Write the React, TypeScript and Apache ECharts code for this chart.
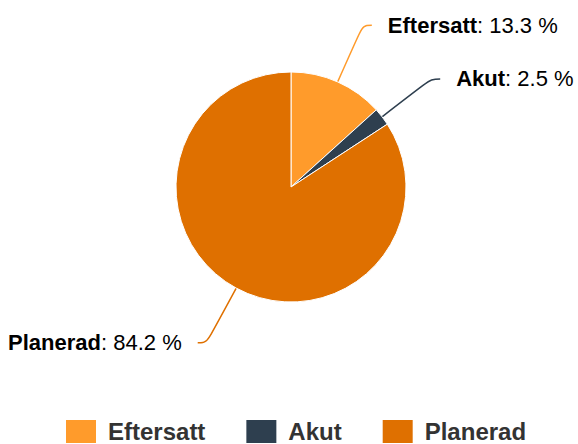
import React, { useEffect, useRef } from "react";
import * as echarts from "echarts";

const categories = ["Eftersatt", "Akut", "Planerad"];
const values = [13.3, 2.5, 84.2];
const colors = ["#FF9B2B", "#2E3F4F", "#DF7000"];

export default function App() {
  const ref = useRef<HTMLDivElement>(null);
  useEffect(() => {
    document.body.style.margin = "0";
    const chart = echarts.init(ref.current!, null, { renderer: "svg" });
    const font = "'Liberation Sans', Arial, Helvetica, sans-serif";
    chart.setOption({
      animation: false,
      textStyle: { fontFamily: font },
      color: colors,
      legend: {
        left: 64,
        top: 418,
        padding: 0,
        itemWidth: 32,
        itemHeight: 25,
        itemGap: 39,
        icon: "rect",
        data: categories,
        textStyle: {
          fontFamily: font,
          fontSize: 24,
          lineHeight: 24,
          fontWeight: "bold",
          color: "#333333",
          padding: [0, 0, 0, 6],
        },
      },
      series: [
        {
          type: "pie",
          center: [291, 187],
          radius: [0, 115],
          startAngle: 90,
          clockwise: true,
          avoidLabelOverlap: true,
          itemStyle: { borderColor: "#ffffff", borderWidth: 1 },
          label: {
            show: true,
            fontFamily: font,
            fontSize: 22,
            width: 190,
            overflow: "none",
            color: "#000000",
            edgeDistance: 0,
            distanceToLabelLine: 16,
            formatter: (p: any) => `{b|${p.name}}: ${p.value} %`,
            rich: {
              b: { fontFamily: font, fontSize: 22, fontWeight: "bold", color: "#000000" },
            },
          },
          labelLine: {
            show: true,
            length: 62,
            length2: 9,
            smooth: 0.4,
            lineStyle: { width: 1.5 },
          },
          emphasis: { disabled: true },
          data: categories.map((c, i) => ({ name: c, value: values[i] })),
        },
      ],
    });
    return () => chart.dispose();
  }, []);
  return <div ref={ref} style={{ width: 578, height: 444 }} />;
}
